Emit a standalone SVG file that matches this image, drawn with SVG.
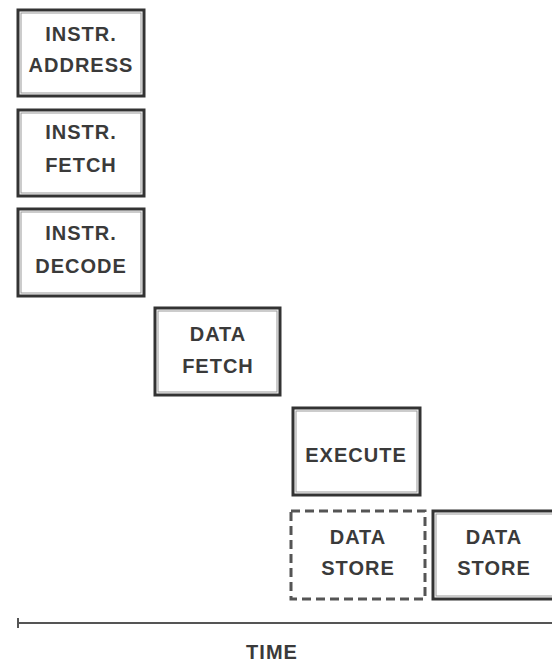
<svg xmlns="http://www.w3.org/2000/svg" width="552" height="663" viewBox="0 0 552 663">
  <style>
    .box { fill: #ffffff; stroke: #333333; stroke-width: 3; }
    .inner { fill: none; stroke: #999999; stroke-width: 1; }
    .dash { fill: #ffffff; stroke: #555555; stroke-width: 3; stroke-dasharray: 9 5; }
    .lbl { font-family: "Liberation Sans", Arial, sans-serif; font-weight: bold; font-size: 20px; fill: #3a3a3a; text-anchor: middle; letter-spacing: 1px; }
    .axis { stroke: #555555; stroke-width: 2; fill: none; }
  </style>
  <rect width="552" height="663" fill="#ffffff"/>

  <g id="instr-address">
    <rect class="box" x="18" y="10" width="126" height="86"/>
    <rect class="inner" x="21" y="13" width="120" height="80"/>
    <text class="lbl" x="81" y="41">INSTR.</text>
    <text class="lbl" x="81" y="72">ADDRESS</text>
  </g>

  <g id="instr-fetch">
    <rect class="box" x="18" y="110" width="126" height="86"/>
    <rect class="inner" x="21" y="113" width="120" height="80"/>
    <text class="lbl" x="81" y="139">INSTR.</text>
    <text class="lbl" x="81" y="172">FETCH</text>
  </g>

  <g id="instr-decode">
    <rect class="box" x="18" y="209" width="126" height="87"/>
    <rect class="inner" x="21" y="212" width="120" height="81"/>
    <text class="lbl" x="81" y="240">INSTR.</text>
    <text class="lbl" x="81" y="273">DECODE</text>
  </g>

  <g id="data-fetch">
    <rect class="box" x="155" y="308" width="125" height="87"/>
    <rect class="inner" x="158" y="311" width="119" height="81"/>
    <text class="lbl" x="218" y="341">DATA</text>
    <text class="lbl" x="218" y="373">FETCH</text>
  </g>

  <g id="execute">
    <rect class="box" x="293" y="408" width="127" height="87"/>
    <rect class="inner" x="296" y="411" width="121" height="81"/>
    <text class="lbl" x="356" y="462">EXECUTE</text>
  </g>

  <g id="data-store-1">
    <rect class="dash" x="291" y="511" width="134" height="88"/>
    <text class="lbl" x="358" y="544">DATA</text>
    <text class="lbl" x="358" y="575">STORE</text>
  </g>

  <g id="data-store-2">
    <rect class="box" x="433" y="511" width="125" height="88"/>
    <rect class="inner" x="436" y="514" width="119" height="82"/>
    <text class="lbl" x="494" y="544">DATA</text>
    <text class="lbl" x="494" y="575">STORE</text>
  </g>

  <g id="connectors">
    <line class="axis" x1="18" y1="623" x2="552" y2="623"/>
    <line class="axis" x1="18" y1="618" x2="18" y2="628"/>
  </g>

  <g id="time-label">
    <text class="lbl" x="272" y="659">TIME</text>
  </g>
</svg>
